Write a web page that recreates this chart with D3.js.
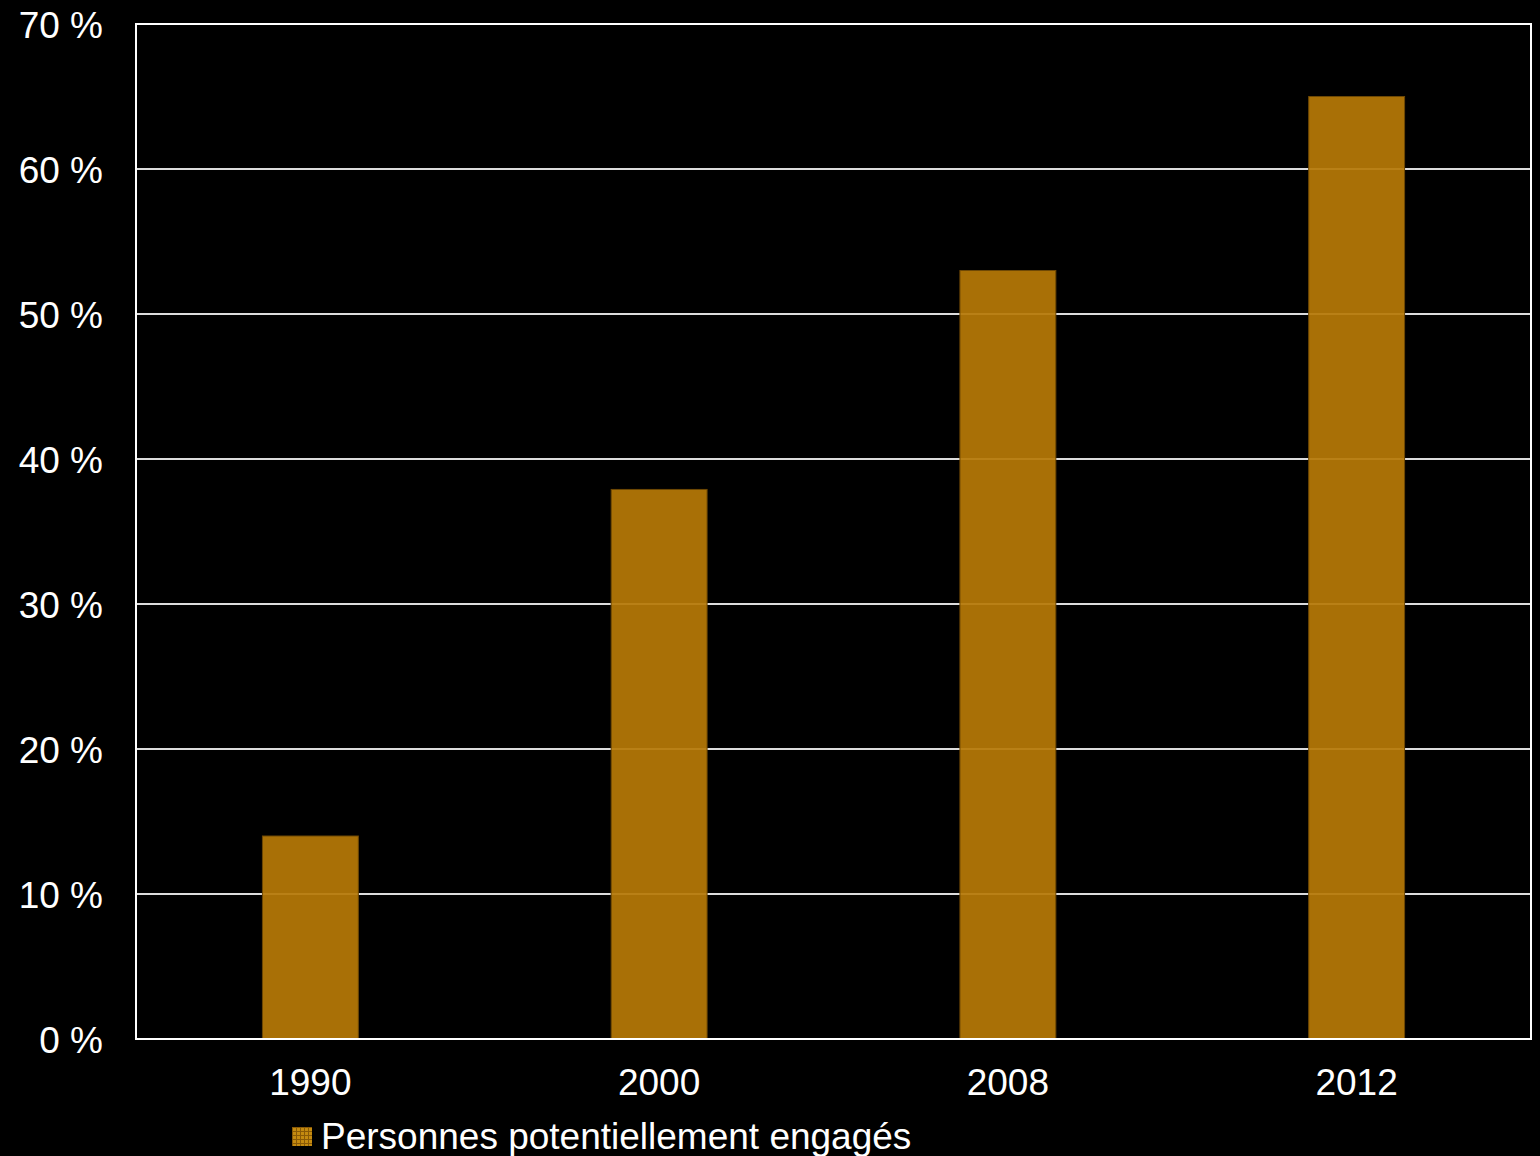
<!DOCTYPE html>
<html>
<head>
<meta charset="utf-8">
<script src="https://cdn.jsdelivr.net/npm/d3@7"></script>
<style>
  body { margin: 0; background: #000; }
  text { font-family: "Liberation Sans", Arial, sans-serif; fill: #fff; }
</style>
</head>
<body>
<div id="chart"></div>
<script>
// values
var years = ["1990", "2000", "2008", "2012"];
var engaged = [14, 37.9, 53, 65];
var yTicks = [0, 10, 20, 30, 40, 50, 60, 70];
var seriesName = "Personnes potentiellement engagés";

var width = 1540, height = 1156;
var margin = { top: 24, right: 9, bottom: 117, left: 136 };

var svg = d3.select("#chart").append("svg")
  .attr("width", width)
  .attr("height", height)
  .style("background", "#000");

var x = d3.scaleBand()
  .domain(years)
  .range([margin.left, width - margin.right])
  .paddingInner(0.725)
  .paddingOuter(0.3625);

var y = d3.scaleLinear()
  .domain([0, 70])
  .range([height - margin.bottom, margin.top]);

// gridlines
svg.append("g")
  .selectAll("line")
  .data(yTicks.filter(function(d) { return d > 0 && d < 70; }))
  .enter().append("line")
  .attr("x1", margin.left)
  .attr("x2", width - margin.right)
  .attr("y1", function(d) { return y(d); })
  .attr("y2", function(d) { return y(d); })
  .attr("stroke", "#dcdcdc")
  .attr("stroke-width", 2);

// bars (slightly see-through, grid shows faintly)
svg.append("g")
  .selectAll("rect")
  .data(engaged)
  .enter().append("rect")
  .attr("x", function(d, i) { return x(years[i]); })
  .attr("width", x.bandwidth())
  .attr("y", function(d) { return y(d); })
  .attr("height", function(d) { return y(0) - y(d); })
  .attr("fill", "#b67806")
  .attr("fill-opacity", 0.93)
  .attr("stroke", "#6e4804")
  .attr("stroke-width", 1);

// frame
svg.append("rect")
  .attr("x", margin.left)
  .attr("y", margin.top)
  .attr("width", width - margin.right - margin.left)
  .attr("height", y(0) - margin.top)
  .attr("fill", "none")
  .attr("stroke", "#fff")
  .attr("stroke-width", 2);

// y labels
var yAxis = d3.axisLeft(y)
  .tickValues(yTicks)
  .tickSize(0)
  .tickPadding(33)
  .tickFormat(function(d) { return d + " %"; });

svg.append("g")
  .attr("transform", "translate(" + margin.left + ",0)")
  .call(yAxis)
  .call(function(g) { g.select(".domain").remove(); })
  .selectAll("text")
  .attr("font-size", 37)
  .attr("font-family", "Liberation Sans, Arial, sans-serif")
  .attr("fill", "#fff")
  .attr("dy", "0.36em");

// x labels
var xAxis = d3.axisBottom(x).tickSize(0).tickPadding(30);
svg.append("g")
  .attr("transform", "translate(0," + y(0) + ")")
  .call(xAxis)
  .call(function(g) { g.select(".domain").remove(); })
  .selectAll("text")
  .attr("font-size", 37)
  .attr("font-family", "Liberation Sans, Arial, sans-serif")
  .attr("fill", "#fff");

// legend
var defs = svg.append("defs");
var pat = defs.append("pattern")
  .attr("id", "legendPat")
  .attr("width", 4).attr("height", 4)
  .attr("patternUnits", "userSpaceOnUse");
pat.append("rect").attr("width", 4).attr("height", 4).attr("fill", "#c48a10");
pat.append("rect").attr("width", 1).attr("height", 4).attr("fill", "#8a5a06");
pat.append("rect").attr("width", 4).attr("height", 1).attr("fill", "#8a5a06");

var legend = svg.append("g").attr("transform", "translate(292,1127)");
legend.append("rect")
  .attr("width", 20).attr("height", 19)
  .attr("fill", "url(#legendPat)");
legend.append("text")
  .attr("x", 29)
  .attr("y", 22)
  .attr("font-size", 37)
  .text(seriesName);
</script>
</body>
</html>
